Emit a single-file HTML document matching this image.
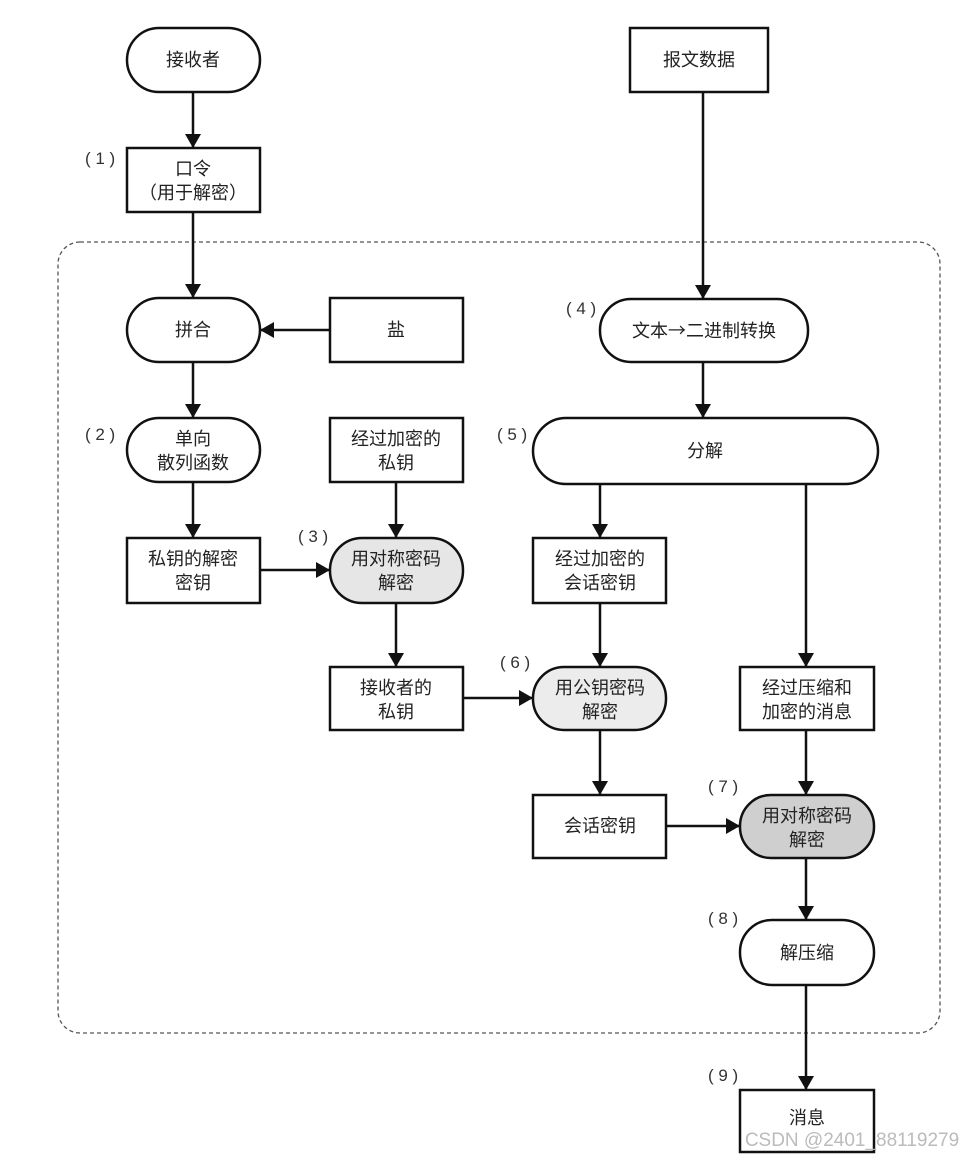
<!DOCTYPE html>
<html><head><meta charset="utf-8"><style>
html,body{margin:0;padding:0;background:#fff;}
text{font-family:"Liberation Sans","Noto Sans CJK SC",sans-serif;font-size:18px;fill:#222;text-anchor:middle;}
.n{font-size:17px;text-anchor:start;fill:#333;}
</style></head><body>
<svg width="961" height="1156" viewBox="0 0 961 1156" xmlns="http://www.w3.org/2000/svg">
<defs><marker id="b" markerWidth="14" markerHeight="16" refX="13" refY="8" orient="auto" markerUnits="userSpaceOnUse"><path d="M0,0 L14,8 L0,16 z" fill="#111"/></marker></defs>
<rect x="58" y="242" width="882" height="791" rx="22" fill="none" stroke="#555" stroke-width="1.3" stroke-dasharray="4,3"/>
<g stroke="#111" stroke-width="2.5" fill="#fff">
<rect x="127" y="28" width="133" height="64" rx="32"/>
<rect x="630" y="28" width="138" height="64"/>
<rect x="127" y="148" width="133" height="64"/>
<rect x="127" y="298" width="133" height="64" rx="32"/>
<rect x="330" y="298" width="133" height="64"/>
<rect x="600" y="299" width="208" height="63" rx="31"/>
<rect x="127" y="418" width="133" height="64" rx="32"/>
<rect x="330" y="418" width="133" height="64"/>
<rect x="533" y="418" width="345" height="66" rx="33"/>
<rect x="127" y="538" width="133" height="65"/>
<rect x="330" y="538" width="133" height="65" rx="32" fill="#e6e6e6"/>
<rect x="533" y="538" width="133" height="65"/>
<rect x="330" y="667" width="133" height="63"/>
<rect x="533" y="667" width="133" height="63" rx="31" fill="#ececec"/>
<rect x="740" y="667" width="134" height="63"/>
<rect x="533" y="795" width="133" height="63"/>
<rect x="740" y="795" width="134" height="63" rx="31" fill="#cfcfcf"/>
<rect x="740" y="920" width="134" height="65" rx="32"/>
<rect x="740" y="1090" width="134" height="62"/>
</g>
<g stroke="#111" stroke-width="2.5" fill="none" marker-end="url(#b)">
<line x1="193" y1="92" x2="193" y2="147"/>
<line x1="193" y1="212" x2="193" y2="297"/>
<line x1="193" y1="362" x2="193" y2="417"/>
<line x1="193" y1="482" x2="193" y2="537"/>
<line x1="396" y1="482" x2="396" y2="537"/>
<line x1="396" y1="603" x2="396" y2="666"/>
<line x1="330" y1="330" x2="261" y2="330"/>
<line x1="260" y1="570" x2="329" y2="570"/>
<line x1="463" y1="698" x2="532" y2="698"/>
<line x1="666" y1="826" x2="739" y2="826"/>
<line x1="703" y1="92" x2="703" y2="298"/>
<line x1="703" y1="362" x2="703" y2="417"/>
<line x1="600" y1="484" x2="600" y2="537"/>
<line x1="600" y1="603" x2="600" y2="666"/>
<line x1="600" y1="730" x2="600" y2="794"/>
<line x1="806" y1="484" x2="806" y2="666"/>
<line x1="806" y1="730" x2="806" y2="794"/>
<line x1="806" y1="858" x2="806" y2="919"/>
<line x1="806" y1="985" x2="806" y2="1089"/>
</g>
<text x="193" y="66">接收者</text>
<text x="699" y="66">报文数据</text>
<text x="193" y="175">口令</text><text x="193" y="199">（用于解密）</text>
<text x="193" y="336">拼合</text>
<text x="396" y="336">盐</text>
<text x="704" y="337">文本<tspan style="font-family:'Noto Sans CJK SC',sans-serif">→</tspan>二进制转换</text>
<text x="193" y="445">单向</text><text x="193" y="469">散列函数</text>
<text x="396" y="445">经过加密的</text><text x="396" y="469">私钥</text>
<text x="705" y="457">分解</text>
<text x="193" y="565">私钥的解密</text><text x="193" y="589">密钥</text>
<text x="396" y="565">用对称密码</text><text x="396" y="589">解密</text>
<text x="600" y="565">经过加密的</text><text x="600" y="589">会话密钥</text>
<text x="396" y="694">接收者的</text><text x="396" y="718">私钥</text>
<text x="600" y="694">用公钥密码</text><text x="600" y="718">解密</text>
<text x="807" y="694">经过压缩和</text><text x="807" y="718">加密的消息</text>
<text x="600" y="832">会话密钥</text>
<text x="807" y="822">用对称密码</text><text x="807" y="846">解密</text>
<text x="807" y="959">解压缩</text>
<text x="807" y="1124">消息</text>
<text class="n" x="85" y="164">( 1 )</text>
<text class="n" x="85" y="440">( 2 )</text>
<text class="n" x="298" y="542">( 3 )</text>
<text class="n" x="566" y="314">( 4 )</text>
<text class="n" x="497" y="440">( 5 )</text>
<text class="n" x="500" y="668">( 6 )</text>
<text class="n" x="708" y="792">( 7 )</text>
<text class="n" x="708" y="924">( 8 )</text>
<text class="n" x="708" y="1081">( 9 )</text>
<text x="852" y="1146" style="font-size:19px;fill:#bbb">CSDN @2401_88119279</text>
</svg>
</body></html>
